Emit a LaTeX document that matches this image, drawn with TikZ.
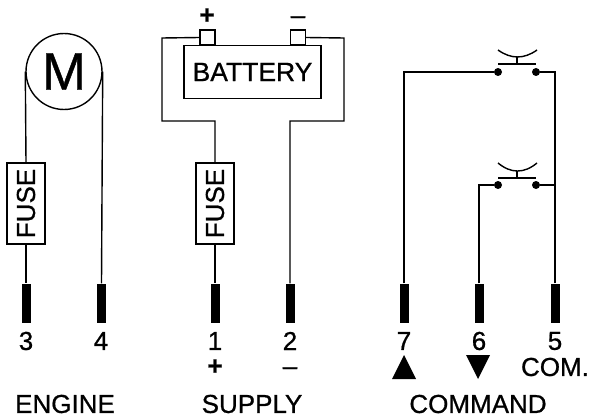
\documentclass[tikz,border=0pt]{standalone}
\usepackage{fontspec}
\setmainfont{Liberation Sans}[FakeBold=0.8]
\usepackage{tikz}
\usetikzlibrary{positioning}

\begin{document}
\begin{tikzpicture}[x=1pt,y=-1pt,
  wire/.style={line width=1.4pt},
  fuse/.style={rectangle, draw=black, line width=1.4pt, minimum width=81pt, minimum height=38pt, rotate=90, inner sep=0pt, font=\fontsize{26}{26}\selectfont},
  pin/.style={rectangle, fill=black, minimum width=9pt, minimum height=39pt, inner sep=0pt},
  terminal/.style={rectangle, draw=black, line width=1.4pt, minimum width=15pt, minimum height=15pt, inner sep=0pt},
  contact/.style={circle, fill=black, minimum size=8pt, inner sep=0pt},
  lbl/.style={font=\fontsize{26}{26}\selectfont, inner sep=0pt}
]
\useasboundingbox (0,0) rectangle (589,420);

% Motor and its fuse
\node[circle, draw=black, line width=1.4pt, minimum size=76pt, inner sep=0pt, font=\fontsize{53}{53}\selectfont] (motor) at (64,71.5) {M};
\node[fuse] (fuse3) at (26,203.5) {FUSE};

% Battery
\node[rectangle, draw=black, line width=1.4pt, minimum width=137pt, minimum height=53.5pt, inner sep=0pt, font=\fontsize{26.5}{26.5}\selectfont] (battery) at (252.5,72) {BATTERY};
\node[terminal] (termplus) at (207.5,37.5) {};
\node[terminal] (termminus) at (298,37.5) {};
\node[fuse] (fuse1) at (215,203.5) {FUSE};

% Pins
\node[pin] (pin3) at (26,303) {};
\node[pin] (pin4) at (101.5,303) {};
\node[pin] (pin1) at (215,303) {};
\node[pin] (pin2) at (290,303) {};
\node[pin] (pin7) at (404,303) {};
\node[pin] (pin6) at (479,303) {};
\node[pin] (pin5) at (555,303) {};

% Push buttons
\node[contact] (sw1a) at (498,72) {};
\node[contact] (sw1b) at (536,72) {};
\node[contact] (sw2a) at (498,185) {};
\node[contact] (sw2b) at (536,185) {};
\coordinate (bar1l) at (498,64);
\coordinate (bar1m) at (517,64);
\coordinate (bar1r) at (536,64);
\coordinate (cap1l) at (498,50);
\coordinate (cap1m) at (517,57);
\coordinate (cap1r) at (537,50);
\coordinate (bar2l) at (498,178);
\coordinate (bar2m) at (517,178);
\coordinate (bar2r) at (536,178);
\coordinate (cap2l) at (498,163);
\coordinate (cap2m) at (517,171);
\coordinate (cap2r) at (537,163);
\draw[wire] (bar1l) -- (bar1r);
\draw[wire] (bar1m) -- (cap1m);
\draw[wire] (cap1l) .. controls (511,59.3) and (524,59.3) .. (cap1r);
\draw[wire] (bar2l) -- (bar2r);
\draw[wire] (bar2m) -- (cap2m);
\draw[wire] (cap2l) .. controls (511,173.7) and (524,173.7) .. (cap2r);

% Wiring
\coordinate (loopa) at (162,38);
\coordinate (loopb) at (162,121);
\coordinate (loopc) at (344,38);
\coordinate (loopd) at (344,121);
\draw[wire] (motor.west) -- (fuse3.east);
\draw[wire] (fuse3.west) -- (pin3.north);
\draw[wire] (motor.east) -- (pin4.north);
\draw[wire] (termplus.west) -- (loopa) -- (loopb) -| (fuse1.east);
\draw[wire] (fuse1.west) -- (pin1.north);
\draw[wire] (termminus.east) -- (loopc) -- (loopd) -| (pin2.north);
\draw[wire] (pin7.north) |- (sw1a);
\draw[wire] (pin6.north) |- (sw2a);
\draw[wire] (pin5.north) |- (sw1b);
\draw[wire] (sw2b) -| (pin5.north);

% Numbers and labels
\node[lbl] (num3) at (26,341) {3};
\node[lbl] (num4) at (101,341) {4};
\node[lbl] (num1) at (215,341) {1};
\node[lbl] (num2) at (290,341) {2};
\node[lbl] (num7) at (404,341) {7};
\node[lbl] (num6) at (479,341) {6};
\node[lbl] (num5) at (555,341) {5};
\node[lbl] (plus) at (215,367) {\textbf{+}};
\node[lbl] (minus) at (290,371) {–};
\node[lbl] (com) at (555,367) {COM.};
\node[lbl] (topplus) at (207,16) {\textbf{+}};
\node[lbl] (topminus) at (298,20) {–};
\node[lbl] (engine) at (65,404) {ENGINE};
\node[lbl] (supply) at (252,404) {SUPPLY};
\node[lbl] (command) at (478,404) {COMMAND};

% Arrow marks
\fill (404,355) -- (416,379) -- (392,379) -- cycle;
\fill (478,379) -- (490,355) -- (466,355) -- cycle;

\end{tikzpicture}
\end{document}
